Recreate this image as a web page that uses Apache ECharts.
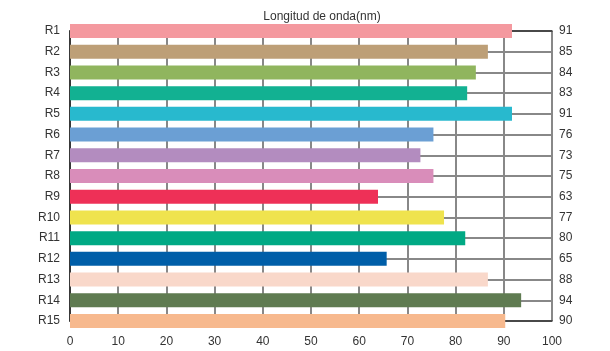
<!DOCTYPE html>
<html><head><meta charset="utf-8">
<script src="https://cdn.jsdelivr.net/npm/echarts@6/dist/echarts.min.js"></script>
<style>html,body{margin:0;padding:0;background:#fff}#c{width:610px;height:351px}</style>
</head><body><div id="c"></div>
<script>
const categories = ['R1','R2','R3','R4','R5','R6','R7','R8','R9','R10','R11','R12','R13','R14','R15'];
const barValues = [91.7, 86.7, 84.2, 82.4, 91.7, 75.4, 72.7, 75.4, 63.9, 77.6, 82.0, 65.7, 86.7, 93.6, 90.3];
const rightLabels = ['91','85','84','83','91','76','73','75','63','77','80','65','88','94','90'];
const barColors = ['#F4999F','#BD9F77','#90B55E','#12B192','#28B9CE','#6B9FD4','#B38CBF','#D98DBA','#EE3057','#EFE34E','#00A984','#005EA8','#F9D8CA','#5F7B51','#F7B98E'];
const xTicks = [0,10,20,30,40,50,60,70,80,90,100];
const titleText = 'Longitud de onda(nm)';

const font = 'Liberation Sans, Arial, sans-serif';
const chart = echarts.init(document.getElementById('c'));
chart.setOption({
  animation: false,
  title: { text: titleText, left: 317, textAlign: 'center', top: 6,
    textStyle: { fontSize: 12, fontWeight: 'normal', color: '#333', fontFamily: font } },
  grid: { left: 70, right: 58, top: 31, bottom: 30 },
  xAxis: [{
    type: 'value', min: xTicks[0], max: xTicks[xTicks.length-1], interval: 10, position: 'bottom',
    axisLine: { show: true, lineStyle: { color: '#333', width: 1.5 } },
    axisTick: { show: false },
    axisLabel: { margin: 15, fontSize: 12, color: '#333', fontFamily: font },
    splitLine: { show: true, lineStyle: { color: '#888', width: 2 } }
  }, {
    type: 'value', min: 0, max: 100, position: 'top',
    axisLine: { show: true, lineStyle: { color: '#333', width: 1.5 } },
    axisTick: { show: false }, axisLabel: { show: false }, splitLine: { show: false }
  }],
  yAxis: [{
    type: 'category', data: categories, inverse: true, boundaryGap: false, position: 'left',
    axisLine: { show: true, lineStyle: { color: '#333', width: 1.5 } },
    axisTick: { show: false },
    axisLabel: { margin: 10, fontSize: 12, color: '#333', fontFamily: font },
    splitLine: { show: true, lineStyle: { color: '#888', width: 2 } }
  }, {
    type: 'category', data: rightLabels, inverse: true, boundaryGap: false, position: 'right',
    axisLine: { show: true, lineStyle: { color: '#333', width: 1.5 } },
    axisTick: { show: false },
    axisLabel: { margin: 7, fontSize: 12, color: '#333', fontFamily: font },
    splitLine: { show: false }
  }],
  series: [{
    type: 'bar', xAxisIndex: 0, yAxisIndex: 0, barWidth: 14, clip: false,
    data: barValues.map((v, i) => ({ value: v, itemStyle: { color: barColors[i] } }))
  }]
});
</script></body></html>
